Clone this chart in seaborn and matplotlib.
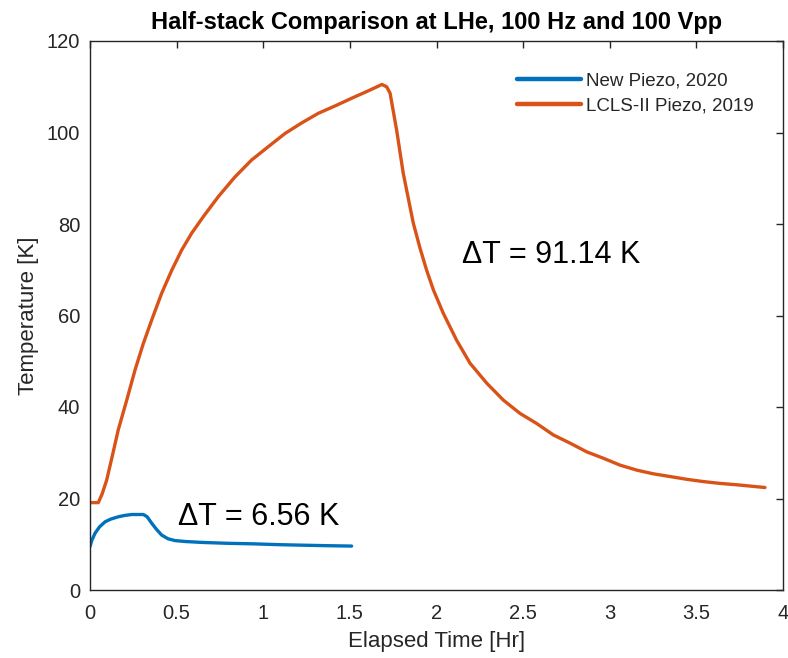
import matplotlib
matplotlib.use("Agg")
import matplotlib.pyplot as plt
import seaborn as sns
import pandas as pd

# ---- data ----
new_t = [0.0, 0.01, 0.029, 0.055, 0.087, 0.12, 0.163, 0.2, 0.241, 0.275, 0.308, 0.33,
         0.356, 0.385, 0.414, 0.45, 0.491, 0.55, 0.645, 0.8, 0.933, 1.1, 1.222, 1.35, 1.51]
new_T = [9.5, 10.8, 12.4, 13.8, 14.9, 15.5, 16.0, 16.3, 16.5, 16.5, 16.5, 16.0,
         14.6, 13.2, 12.0, 11.2, 10.8, 10.6, 10.4, 10.2, 10.1, 9.9, 9.8, 9.7, 9.6]

old_t = [0.0, 0.048, 0.07, 0.096, 0.13, 0.163, 0.212, 0.26, 0.308, 0.356, 0.414, 0.472, 0.529, 0.587,
         0.654, 0.741, 0.837, 0.933, 1.029, 1.126, 1.222, 1.318, 1.414, 1.511, 1.606,
         1.685, 1.712, 1.732, 1.770, 1.808, 1.866, 1.905, 1.943, 1.982, 2.039, 2.116,
         2.193, 2.29, 2.386, 2.482, 2.578, 2.674, 2.771, 2.867, 2.963, 3.059, 3.156,
         3.251, 3.348, 3.444, 3.540, 3.636, 3.733, 3.896]
old_T = [19.1, 19.1, 21.0, 24.0, 29.5, 35.0, 41.5, 48.1, 53.9, 59.0, 64.9, 69.9, 74.3, 78.0,
         81.6, 86.0, 90.3, 94.0, 96.9, 99.8, 102.1, 104.2, 105.8, 107.5, 109.1,
         110.5, 110.0, 108.6, 100.5, 91.1, 80.2, 74.7, 69.9, 65.6, 60.5, 54.6,
         49.6, 45.2, 41.5, 38.6, 36.4, 33.9, 32.1, 30.2, 28.8, 27.3, 26.2,
         25.4, 24.8, 24.2, 23.7, 23.3, 23.0, 22.4]

series_names = ["New Piezo, 2020", "LCLS-II Piezo, 2019"]
series_colors = ["#0072BD", "#D95319"]
title_text = "Half-stack Comparison at LHe, 100 Hz and 100 Vpp"
x_label = "Elapsed Time [Hr]"
y_label = "Temperature [K]"
x_ticks = [0, 0.5, 1, 1.5, 2, 2.5, 3, 3.5, 4]
x_tick_labels = ["0", "0.5", "1", "1.5", "2", "2.5", "3", "3.5", "4"]
y_ticks = [0, 20, 40, 60, 80, 100, 120]
annot_new = "ΔT = 6.56 K"
annot_old = "ΔT = 91.14 K"

df = pd.concat([
    pd.DataFrame({"t": new_t, "T": new_T, "series": series_names[0]}),
    pd.DataFrame({"t": old_t, "T": old_T, "series": series_names[1]}),
], ignore_index=True)

sns.set_style("white")
plt.rcParams["font.family"] = ["Liberation Sans", "DejaVu Sans"]

fig = plt.figure(figsize=(7.88, 6.58), dpi=100)
ax = fig.add_axes([90 / 788, 68 / 658, 693 / 788, 549 / 658])

sns.lineplot(data=df, x="t", y="T", hue="series", hue_order=series_names,
             palette=series_colors, sort=False, estimator=None, linewidth=2.4, ax=ax)
for ln in ax.get_lines():
    ln.set_solid_joinstyle("round")
    ln.set_solid_capstyle("round")

ax.set_xlim(0, 4)
ax.set_ylim(0, 120)
ax.set_xticks(x_ticks)
ax.set_xticklabels(x_tick_labels)
ax.set_yticks(y_ticks)

for s in ax.spines.values():
    s.set_color("#262626")
    s.set_linewidth(1.0)
ax.tick_params(axis="both", which="both", direction="in", length=5, width=1.0,
               colors="#262626", labelcolor="#262626", labelsize=14.5,
               top=True, right=True)
ax.tick_params(axis="x", pad=10)
ax.tick_params(axis="y", pad=7)

ax.set_xlabel(x_label, fontsize=16, color="#262626", labelpad=6)
ax.set_ylabel(y_label, fontsize=16, color="#262626", labelpad=6)
ax.set_title(title_text, fontsize=17, fontweight="bold", color="black", pad=9)

ax.text(2.145, 71.4, annot_old, fontsize=22, color="black", va="baseline", ha="left")
ax.text(0.51, 14.2, annot_new, fontsize=22, color="black", va="baseline", ha="left")

leg = ax.legend(loc="upper left", bbox_to_anchor=((517 - 90) / 693, (590 - 72) / 549),
                frameon=False, fontsize=13.5, borderpad=0, borderaxespad=0,
                handlelength=3.4, handletextpad=0.3, labelspacing=0.45)
for line in leg.get_lines():
    line.set_linewidth(3.2)
for txt in leg.get_texts():
    txt.set_color("#262626")

fig.savefig("out.png", dpi=100)
